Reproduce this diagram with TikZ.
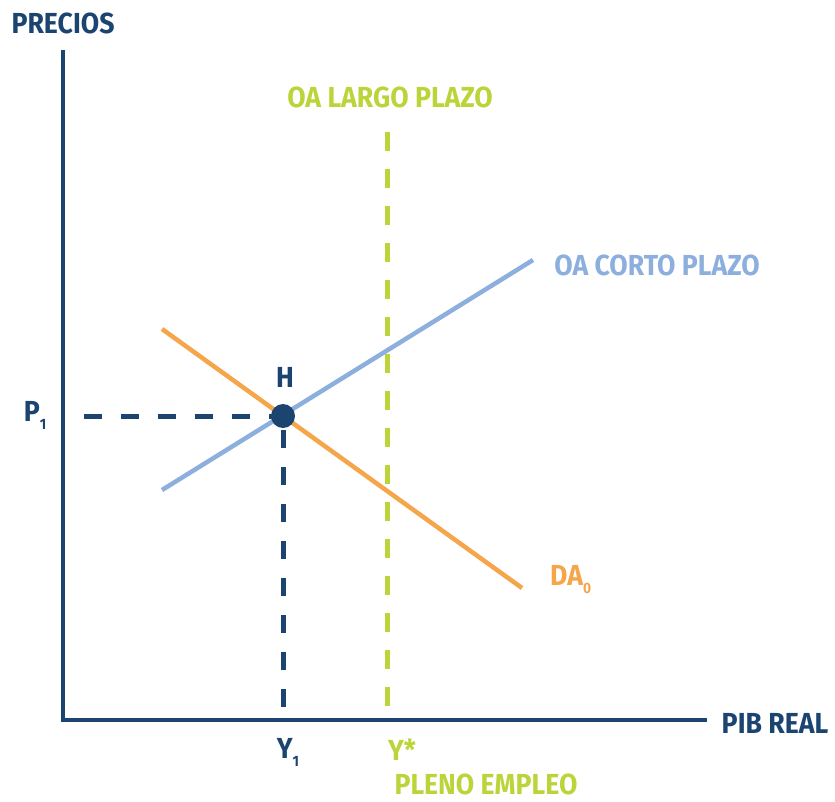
\documentclass[tikz,border=0pt]{standalone}
\usepackage{fontspec}
\setmainfont{Fira Sans}[UprightFont=* Bold, FakeStretch=0.92]
\begin{document}
\begin{tikzpicture}[x=1pt,y=-1pt,
  lbl/.style={font=\fontsize{29}{31}\selectfont, inner sep=0pt}]
\definecolor{dblue}{HTML}{1B4570}
\definecolor{lblue}{HTML}{8DAFDD}
\definecolor{orng}{HTML}{F5A54A}
\definecolor{lime}{HTML}{BCD43A}
\newcommand{\subone}[1]{\raisebox{-8pt}{\fontsize{15}{15}\selectfont #1}}
\useasboundingbox (0,0) rectangle (835,802);
% axes
\coordinate (O) at (63,720);
\coordinate (ytop) at (63,50);
\coordinate (xend) at (707,720);
\draw[dblue, line width=4pt] (ytop) -- (O) -- (xend);
\node[lbl, text=dblue] (precios) at (63,23) {PRECIOS};
\node[lbl, text=dblue] (pib) at (775,723) {PIB REAL};
% long-run AS
\coordinate (lrtop) at (387,132);
\coordinate (lrbot) at (387,720);
\draw[lime, line width=5pt, dash pattern=on 19pt off 18pt] (lrtop) -- (lrbot);
\node[lbl, text=lime] (oalp) at (390,97) {OA LARGO PLAZO};
% short-run AS
\coordinate (as1) at (162,490);
\coordinate (as2) at (533,260);
\draw[lblue, line width=4.5pt] (as1) -- (as2);
\node[lbl, text=lblue] (oacp) at (657,265) {OA CORTO PLAZO};
% AD
\coordinate (ad1) at (162,329);
\coordinate (ad2) at (522,588);
\draw[orng, line width=4.5pt] (ad1) -- (ad2);
\node[lbl, text=orng, anchor=west] (da) at (550,580) {DA\subone{0}};
% equilibrium
\coordinate (H) at (283,416);
\coordinate (p1c) at (84,416);
\coordinate (y1c) at (283,720);
\draw[dblue, line width=5pt, dash pattern=on 18pt off 19pt] (p1c) -- (H);
\draw[dblue, line width=5pt, dash pattern=on 18pt off 19pt] ([yshift=-14pt]H) -- (y1c);
\fill[dblue] (H) circle (12);
\node[lbl, text=dblue] (hl) at (285,377) {H};
\node[lbl, text=dblue] (p1) at (35,415) {P\subone{1}};
\node[lbl, text=dblue] (y1) at (288,752) {Y\subone{1}};
\node[lbl, text=lime] (ystar) at (402,750) {Y*};
\node[lbl, text=lime] (pleno) at (486,784) {PLENO EMPLEO};
\end{tikzpicture}
\end{document}
